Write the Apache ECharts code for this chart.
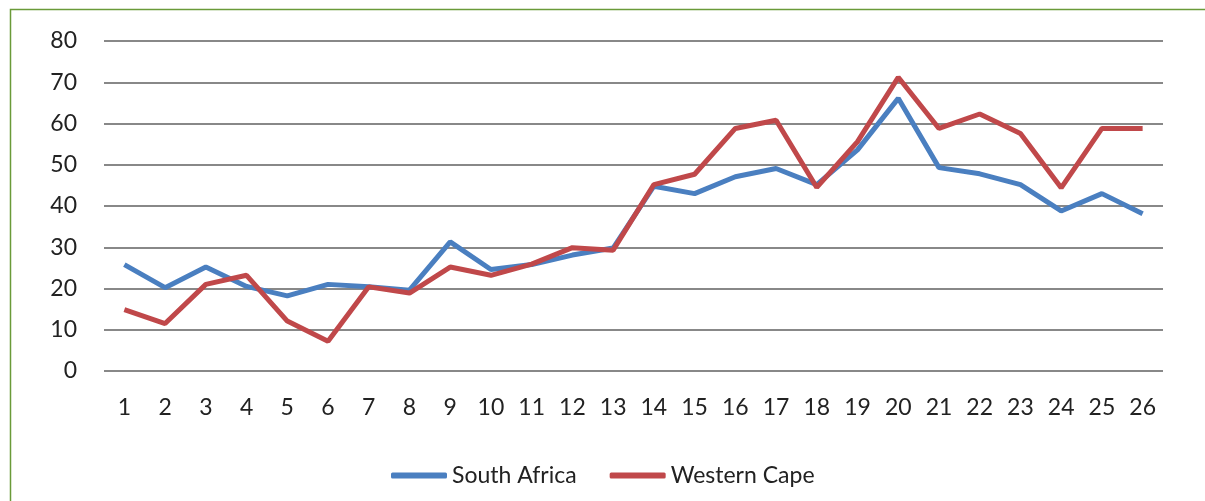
<!DOCTYPE html>
<html>
<head>
<meta charset="utf-8">
<script src="https://cdn.jsdelivr.net/npm/echarts@6/dist/echarts.min.js"></script>
<style>
  html, body { margin: 0; padding: 0; background: #fff; }
  #chart { width: 1205px; height: 501px; }
</style>
</head>
<body>
<div id="chart"></div>
<script>
// Categories along the x axis
const categories = ['1','2','3','4','5','6','7','8','9','10','11','12','13',
  '14','15','16','17','18','19','20','21','22','23','24','25','26'];

// Series values
const southAfrica = [25.8, 20.2, 25.2, 20.5, 18.2, 21, 20.4, 19.6, 31.3, 24.6, 25.8, 28.1, 29.8,
  44.8, 43, 47.1, 49.1, 45.2, 53.6, 66.1, 49.3, 47.8, 45.2, 38.8, 43, 38.1];
const westernCape = [14.9, 11.5, 21, 23.2, 12.1, 7.2, 20.4, 18.9, 25.2, 23.2, 25.9, 29.9, 29.3,
  45.2, 47.7, 58.8, 60.8, 44.5, 55.6, 71.2, 58.8, 62.3, 57.6, 44.4, 58.8, 58.8];

// Value axis ticks
const yMin = 0, yMax = 80, yStep = 10;

const labelFont = 'Lato, "Open Sans", sans-serif';

const chart = echarts.init(document.getElementById('chart'));
chart.setOption({
  animation: false,
  backgroundColor: '#ffffff',
  graphic: [{
    type: 'rect',
    shape: { x: 10.5, y: 9.5, width: 1400, height: 700 },
    style: { fill: 'none', stroke: '#6a9a38', lineWidth: 1.5 },
    silent: true
  }],
  grid: { left: 104, right: 42, top: 41, bottom: 130, containLabel: false },
  legend: {
    data: ['South Africa', 'Western Cape'],
    left: 386,
    top: 459,
    itemWidth: 56,
    itemHeight: 6,
    itemGap: 33,
    icon: 'roundRect',
    textStyle: { fontFamily: labelFont, fontSize: 23, color: '#222' }
  },
  xAxis: {
    type: 'category',
    data: categories,
    boundaryGap: true,
    axisLine: { show: false },
    axisTick: { show: false },
    axisLabel: { fontFamily: labelFont, fontSize: 23, color: '#222', margin: 25 }
  },
  yAxis: {
    type: 'value',
    min: yMin,
    max: yMax,
    interval: yStep,
    axisLine: { show: false },
    axisTick: { show: false },
    axisLabel: { fontFamily: labelFont, fontSize: 23, color: '#222', margin: 27 },
    splitLine: { lineStyle: { color: '#888888', width: 2.2 } }
  },
  series: [
    {
      name: 'South Africa',
      type: 'line',
      data: southAfrica,
      symbol: 'none',
      lineStyle: { color: '#4a7fc0', width: 5 },
      itemStyle: { color: '#4a7fc0' }
    },
    {
      name: 'Western Cape',
      type: 'line',
      data: westernCape,
      symbol: 'none',
      lineStyle: { color: '#c0484a', width: 5 },
      itemStyle: { color: '#c0484a' }
    }
  ]
});
</script>
</body>
</html>
